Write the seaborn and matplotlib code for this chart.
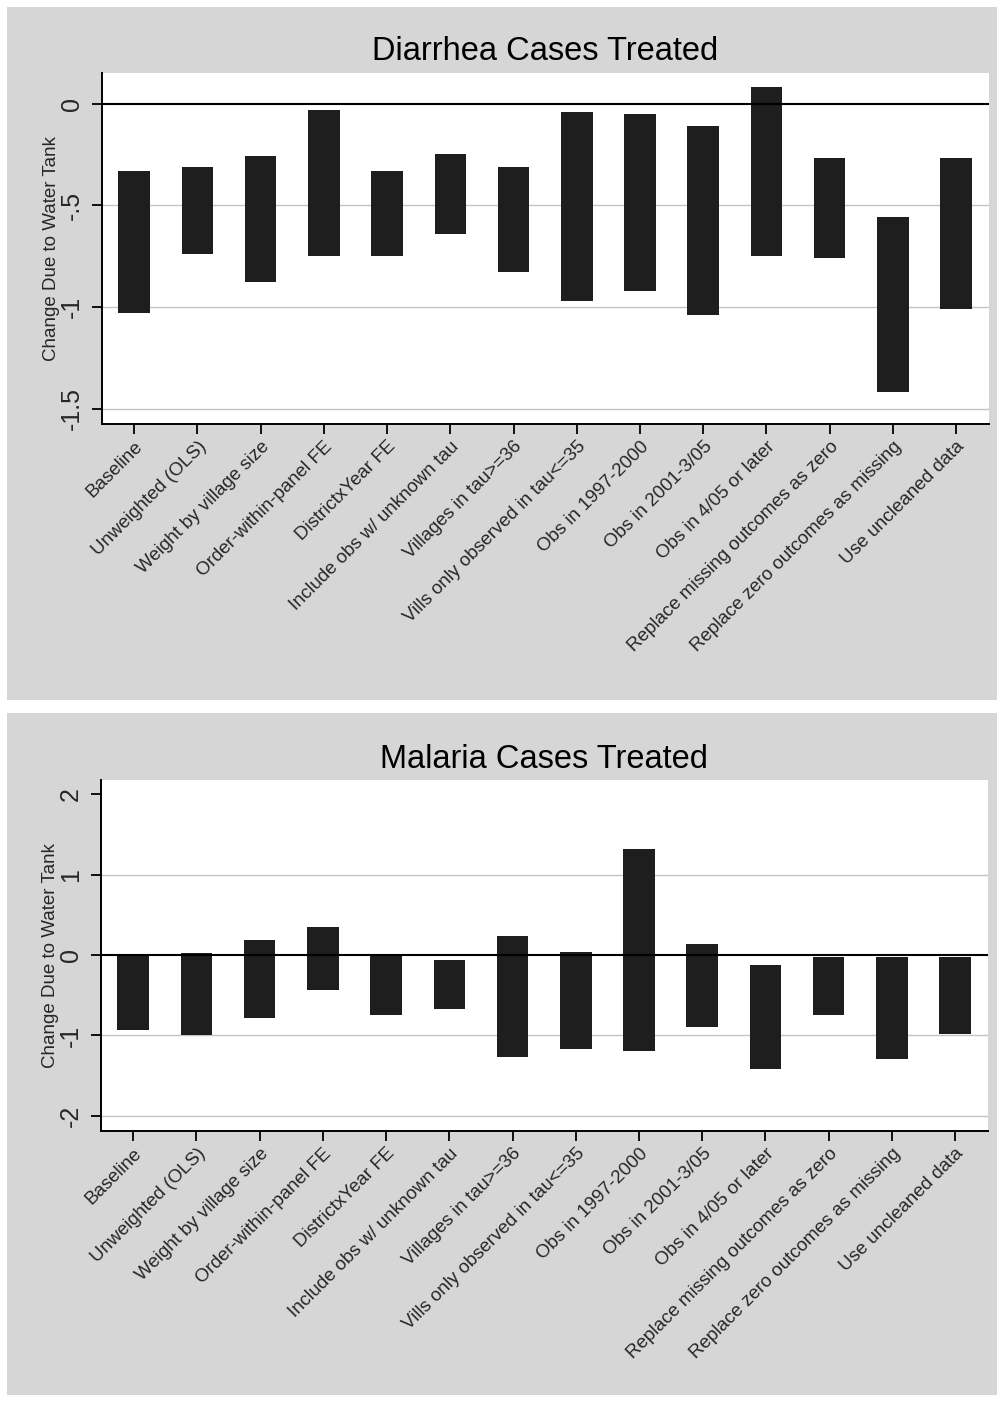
import matplotlib
matplotlib.use("Agg")
import matplotlib.pyplot as plt
from matplotlib.patches import Rectangle
import numpy as np
import pandas as pd
import seaborn as sns

# Robustness checks: specification labels
specs = [
    "Baseline",
    "Unweighted (OLS)",
    "Weight by village size",
    "Order-within-panel FE",
    "DistrictxYear FE",
    "Include obs w/ unknown tau",
    "Villages in tau>=36",
    "Vills only observed in tau<=35",
    "Obs in 1997-2000",
    "Obs in 2001-3/05",
    "Obs in 4/05 or later",
    "Replace missing outcomes as zero",
    "Replace zero outcomes as missing",
    "Use uncleaned data",
]

# Confidence interval bounds: diarrhea cases treated
diarrhea_lo = [-1.03, -0.74, -0.88, -0.75, -0.75, -0.64, -0.83,
               -0.97, -0.92, -1.04, -0.75, -0.76, -1.42, -1.01]
diarrhea_hi = [-0.33, -0.31, -0.26, -0.03, -0.33, -0.25, -0.31,
               -0.04, -0.05, -0.11, 0.08, -0.27, -0.56, -0.27]

# Confidence interval bounds: malaria cases treated
malaria_lo = [-0.93, -1.00, -0.78, -0.44, -0.75, -0.67, -1.27,
              -1.17, -1.19, -0.90, -1.42, -0.75, -1.29, -0.98]
malaria_hi = [0.00, 0.03, 0.19, 0.35, 0.00, -0.06, 0.24,
              0.04, 1.32, 0.14, -0.12, -0.02, -0.02, -0.02]

diarrhea_ticks = [0, -0.5, -1, -1.5]
diarrhea_ticklabels = ["0", "-.5", "-1", "-1.5"]
malaria_ticks = [2, 1, 0, -1, -2]
malaria_ticklabels = ["2", "1", "0", "-1", "-2"]

titles = ["Diarrhea Cases Treated", "Malaria Cases Treated"]
ylabel = "Change Due to Water Tank"

sns.set_theme(style="white")
plt.rcParams["font.family"] = ["Liberation Sans", "DejaVu Sans"]

W, H = 1000, 1401
fig = plt.figure(figsize=(W / 100, H / 100), dpi=100, facecolor="white")

PANEL_GREY = "#d6d6d6"
BAR_COLOR = "#1e1e1e"
GRID_COLOR = "#c4c4c4"


def px_rect(x0, y0, x1, y1):
    """Convert a pixel box (top-left origin) to figure fractions."""
    return [x0 / W, 1 - y1 / H, (x1 - x0) / W, (y1 - y0) / H]


# grey panel backgrounds, kept beneath the axes
for (y0, y1) in [(7, 700), (713, 1395)]:
    l, b, w, h = px_rect(7, y0, 997, y1)
    fig.patches.append(Rectangle((l, b), w, h, transform=fig.transFigure,
                                 facecolor=PANEL_GREY, edgecolor="none", zorder=-5))

panels = [
    dict(box=(102, 73, 989, 424), lo=diarrhea_lo, hi=diarrhea_hi,
         ticks=diarrhea_ticks, labels=diarrhea_ticklabels,
         ylim=(-1.576, 0.15), grid=[-0.5, -1, -1.5], title=titles[0]),
    dict(box=(101, 780, 988, 1131), lo=malaria_lo, hi=malaria_hi,
         ticks=malaria_ticks, labels=malaria_ticklabels,
         ylim=(-2.19, 2.18), grid=[1, -1, -2], title=titles[1]),
]

for p in panels:
    ax = fig.add_axes(px_rect(*p["box"]))
    ax.set_facecolor("white")
    df = pd.DataFrame({
        "spec": specs,
        "lo": p["lo"],
        "hi": p["hi"],
    })
    df["span"] = df["hi"] - df["lo"]
    sns.barplot(data=df, x="spec", y="span", order=specs, bottom=df["lo"].to_numpy(),
                color=BAR_COLOR, saturation=1, width=0.5, edgecolor="none",
                linewidth=0, ax=ax, zorder=3)

    for g in p["grid"]:
        ax.axhline(g, color=GRID_COLOR, lw=1.0, zorder=1)
    ax.axhline(0, color="black", lw=1.5, zorder=4)

    ax.set_xlim(-0.51, 13.52)
    ax.set_ylim(*p["ylim"])
    ax.set_yticks(p["ticks"])
    ax.set_yticklabels(p["labels"], fontsize=18, rotation=90, va="center")

    ax.set_xlabel("")
    ax.set_ylabel(ylabel, fontsize=13.5)
    ax.yaxis.set_label_coords(-0.047, 0.5)

    ax.set_xticks(range(len(specs)))
    ax.set_xticklabels(specs, fontsize=13.5, rotation=45, ha="right",
                       va="top", rotation_mode="anchor")

    ax.tick_params(axis="both", which="major", direction="out", length=7,
                   width=1.3, color="black", bottom=True, left=True)
    ax.tick_params(axis="y", pad=6)
    ax.tick_params(axis="x", pad=3)

    for side in ["top", "right"]:
        ax.spines[side].set_visible(False)
    for side in ["left", "bottom"]:
        ax.spines[side].set_visible(True)
        ax.spines[side].set_color("black")
        ax.spines[side].set_linewidth(1.4)

    ax.set_title(p["title"], fontsize=23.5, pad=9, color="black")

fig.savefig("out.png", dpi=100, facecolor="white")
